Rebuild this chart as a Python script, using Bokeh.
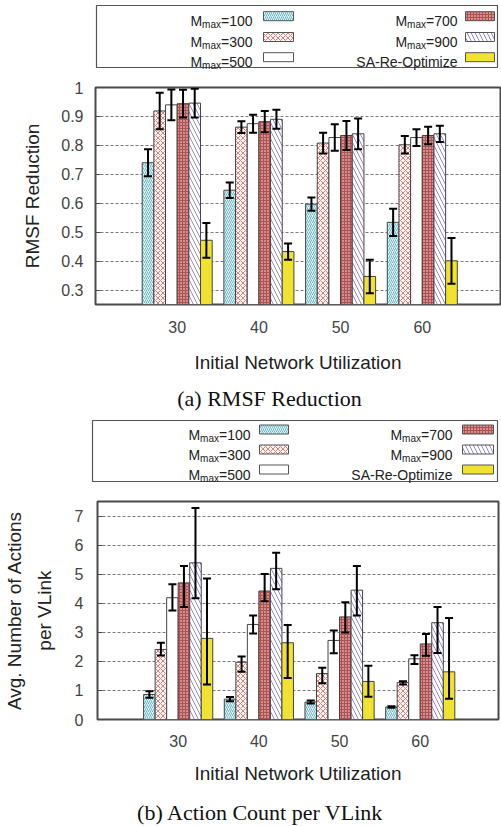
from bokeh.plotting import figure
from bokeh.models import Range1d, FixedTicker, LinearAxis, Whisker, TeeHead, ColumnDataSource, PrintfTickFormatter
from bokeh.layouts import column
from bokeh.embed import file_html
from bokeh.resources import INLINE
from bokeh.core.properties import value

# ---------------- data ----------------
groups = [30, 40, 50, 60]
mmax_values = ["100", "300", "500", "700", "900"]
sa_label = "SA-Re-Optimize"

# (a) RMSF reduction: mean and half error
rmsf_m100 = [0.740, 0.645, 0.597, 0.534]
rmsf_m300 = [0.919, 0.863, 0.808, 0.802]
rmsf_m500 = [0.940, 0.875, 0.827, 0.827]
rmsf_m700 = [0.944, 0.882, 0.834, 0.834]
rmsf_m900 = [0.946, 0.890, 0.840, 0.840]
rmsf_sa = [0.472, 0.433, 0.347, 0.401]
rmsf_err_m100 = [0.047, 0.027, 0.023, 0.047]
rmsf_err_m300 = [0.063, 0.020, 0.036, 0.030]
rmsf_err_m500 = [0.053, 0.031, 0.046, 0.029]
rmsf_err_m700 = [0.048, 0.037, 0.050, 0.030]
rmsf_err_m900 = [0.050, 0.033, 0.053, 0.028]
rmsf_err_sa = [0.060, 0.028, 0.058, 0.079]

# (b) action count per VLink: mean, lower and upper error bounds
act_m100 = [0.86, 0.70, 0.60, 0.43]
act_m300 = [2.41, 1.97, 1.58, 1.27]
act_m500 = [4.19, 3.27, 2.72, 2.09]
act_m700 = [4.70, 4.42, 3.53, 2.60]
act_m900 = [5.39, 5.20, 4.45, 3.33]
act_sa = [2.79, 2.64, 1.31, 1.64]
act_lo_m100 = [0.75, 0.63, 0.55, 0.40]
act_hi_m100 = [0.97, 0.77, 0.65, 0.46]
act_lo_m300 = [2.20, 1.64, 1.25, 1.20]
act_hi_m300 = [2.64, 2.17, 1.78, 1.32]
act_lo_m500 = [3.75, 2.96, 2.28, 1.91]
act_hi_m500 = [4.65, 3.58, 3.06, 2.21]
act_lo_m700 = [3.87, 4.07, 2.99, 2.19]
act_hi_m700 = [5.28, 5.01, 4.03, 2.94]
act_lo_m900 = [4.17, 4.48, 3.58, 2.29]
act_hi_m900 = [7.28, 5.74, 5.28, 3.87]
act_lo_sa = [1.20, 1.43, 0.78, 0.71]
act_hi_sa = [4.85, 3.25, 1.85, 3.49]

rmsf_ticks = [0.3, 0.4, 0.5, 0.6, 0.7, 0.8, 0.9, 1.0]
act_ticks = [0, 1, 2, 3, 4, 5, 6, 7]

# ---------------- styles ----------------
SANS = "Liberation Sans"
SERIF = "Liberation Serif"
FRAME = "#4a4a4a"
styles = [
    dict(fill_color="#e2f4f8", hatch_pattern="/", hatch_color="#5fb0c2", hatch_scale=4, hatch_weight=0.9),
    dict(fill_color="#fff6f4", hatch_pattern="x", hatch_color="#d88080", hatch_scale=5, hatch_weight=1),
    dict(fill_color="#ffffff"),
    dict(fill_color="#d48c8c", hatch_pattern="+", hatch_color="#b05252", hatch_scale=3, hatch_weight=1),
    dict(fill_color="#ffffff", hatch_pattern="\\", hatch_color="#9888cf", hatch_scale=8, hatch_weight=1),
    dict(fill_color="#f0e22e"),
]
BW = 10.0 / 7.0
W = 501


def main_fig(height, bl, br, bt, bb, xr, yr, yticks):
    p = figure(width=W, height=height, x_range=Range1d(*xr), y_range=Range1d(*yr),
               output_backend="svg", toolbar_location=None, title=None,
               min_border_left=bl, min_border_right=br, min_border_top=bt, min_border_bottom=bb)
    p.frame_align = False
    p.outline_line_color = FRAME
    p.outline_line_width = 2
    p.background_fill_color = "white"
    p.border_fill_color = "white"
    p.xgrid.visible = False
    p.ygrid.ticker = FixedTicker(ticks=yticks)
    p.ygrid.grid_line_color = "#7a7a7a"
    p.ygrid.grid_line_dash = "3 2"
    p.ygrid.grid_line_width = 1
    xa = p.xaxis[0]
    xa.ticker = FixedTicker(ticks=groups)
    xa.major_tick_out = 0
    xa.major_tick_in = 0
    xa.minor_tick_out = 0
    xa.axis_line_color = None
    xa.major_label_text_font = SANS
    xa.major_label_text_font_size = "16px"
    xa.major_label_text_color = "#444444"
    xa.major_label_standoff = 16
    xa.axis_label = "Initial Network Utilization"
    xa.axis_label_text_font = SANS
    xa.axis_label_text_font_size = "19px"
    xa.axis_label_text_font_style = "normal"
    xa.axis_label_text_color = "#222222"
    xa.axis_label_standoff = 16
    ya = p.yaxis[0]
    ya.ticker = FixedTicker(ticks=yticks)
    ya.formatter = PrintfTickFormatter(format="%g")
    ya.major_tick_out = 0
    ya.major_tick_in = 5
    ya.minor_tick_out = 0
    ya.minor_tick_in = 0
    ya.major_tick_line_color = FRAME
    ya.axis_line_color = None
    ya.major_label_text_font = SANS
    ya.major_label_text_font_size = "16px"
    ya.major_label_text_color = "#444444"
    ya.axis_label_text_font = SANS
    ya.axis_label_text_font_size = "19px"
    ya.axis_label_text_font_style = "normal"
    ya.axis_label_text_color = "#222222"
    return p


def draw_bars(p, means, lows, highs, base):
    for i, (m, lo, hi) in enumerate(zip(means, lows, highs)):
        xs = [g + (i - 2.5) * BW for g in groups]
        p.vbar(x=xs, width=BW, top=m, bottom=base, line_color="#444444", line_width=1, **styles[i])
        src = ColumnDataSource(dict(x=xs, lower=lo, upper=hi))
        w = Whisker(source=src, base="x", lower="lower", upper="upper",
                    line_color="black", line_width=2, level="annotation",
                    upper_head=TeeHead(size=8, line_width=2, line_color="black"),
                    lower_head=TeeHead(size=8, line_width=2, line_color="black"))
        p.add_layout(w)


def blank_fig(top, height):
    p = figure(width=W, height=height, x_range=Range1d(0, W), y_range=Range1d(top + height, top),
               output_backend="svg", toolbar_location=None, title=None,
               x_axis_type=None, y_axis_type=None, min_border=0)
    p.frame_align = False
    p.outline_line_color = None
    p.background_fill_color = "white"
    p.border_fill_color = "white"
    return p


def legend_fig(top, height, box, baselines, ends, swatches):
    p = blank_fig(top, height)
    l, r, t, b = box
    p.quad(left=[l], right=[r], top=[t], bottom=[b], fill_color=None, line_color="#555555", line_width=1.2)
    F = 14.0
    fs = 10.0
    w_max = (0.833 + 0.556 + 0.5) * fs
    entries = ["=" + v for v in mmax_values] + [sa_label]
    for i, e in enumerate(entries):
        col = i // 3
        row = i % 3
        yb = baselines[row]
        xe = ends[col]
        sl, sr = swatches[col]
        if e.startswith("="):
            w_eq = (0.584 + 0.556 * 3) * F
            p.text(x=[xe], y=[yb], text=[e], text_align="right", text_baseline="alphabetic",
                   text_font=value(SANS), text_font_size="14px", text_color="#222222")
            p.text(x=[xe - w_eq], y=[yb + 3.5], text=["max"], text_align="right", text_baseline="alphabetic",
                   text_font=value(SANS), text_font_size="10px", text_color="#222222")
            p.text(x=[xe - w_eq - w_max], y=[yb], text=["M"], text_align="right", text_baseline="alphabetic",
                   text_font=value(SANS), text_font_size="14px", text_color="#222222")
        else:
            p.text(x=[xe], y=[yb], text=[e], text_align="right", text_baseline="alphabetic",
                   text_font=value(SANS), text_font_size="14px", text_color="#222222")
        p.quad(left=[sl], right=[sr], top=[yb - 9.5], bottom=[yb - 0.5], line_color="#555555",
               line_width=1, **styles[i])
    return p


def caption_fig(top, height, x, y, text):
    p = blank_fig(top, height)
    p.text(x=[x], y=[y], text=[text], text_align="center", text_baseline="middle",
           text_font=value(SERIF), text_font_size="22px", text_color="#111111")
    return p


# ---------------- panel (a) ----------------
leg_a = legend_fig(0, 75, (96, 497, 5, 67), [20.7, 41.5, 61.7], [252, 457], [(263, 293), (465, 494)])

pa = main_fig(309, 95, 1, 12, 80, (20, 69.57), (0.25, 1.0), rmsf_ticks)
pa.yaxis[0].major_label_standoff = 12
pa.yaxis[0].axis_label = "RMSF Reduction"
pa.yaxis[0].axis_label_standoff = 15
a_means = [rmsf_m100, rmsf_m300, rmsf_m500, rmsf_m700, rmsf_m900, rmsf_sa]
a_errs = [rmsf_err_m100, rmsf_err_m300, rmsf_err_m500, rmsf_err_m700, rmsf_err_m900, rmsf_err_sa]
a_lows = [[m - e for m, e in zip(ms, es)] for ms, es in zip(a_means, a_errs)]
a_highs = [[m + e for m, e in zip(ms, es)] for ms, es in zip(a_means, a_errs)]
draw_bars(pa, a_means, a_lows, a_highs, 0.25)

cap_a = caption_fig(384, 32, 269, 398, "(a) RMSF Reduction")

# ---------------- panel (b) ----------------
leg_b = legend_fig(416, 72, (92, 497, 420, 481), [434, 454, 474], [250, 452], [(259, 288), (462, 493)])

pb = main_fig(307, 91, 3, 13, 76, (20, 69.7), (0, 7.5), act_ticks)
pb.xaxis[0].major_label_standoff = 15
pb.xaxis[0].axis_label_standoff = 13
pb.yaxis[0].major_label_standoff = 14
pb.yaxis[0].axis_label = "per VLink"
pb.yaxis[0].axis_label_standoff = 17
extra = LinearAxis(axis_label="Avg. Number of Actions", ticker=FixedTicker(ticks=[]),
                   major_tick_out=0, major_tick_in=0, minor_tick_out=0, minor_tick_in=0,
                   axis_line_color=None, major_label_standoff=0, axis_label_standoff=6,
                   axis_label_text_font=SANS, axis_label_text_font_size="19px",
                   axis_label_text_font_style="normal", axis_label_text_color="#222222")
pb.add_layout(extra, "left")
b_means = [act_m100, act_m300, act_m500, act_m700, act_m900, act_sa]
b_lows = [act_lo_m100, act_lo_m300, act_lo_m500, act_lo_m700, act_lo_m900, act_lo_sa]
b_highs = [act_hi_m100, act_hi_m300, act_hi_m500, act_hi_m700, act_hi_m900, act_hi_sa]
draw_bars(pb, b_means, b_lows, b_highs, 0)

cap_b = caption_fig(795, 30, 260, 812, "(b) Action Count per VLink")

layout = column(leg_a, pa, cap_a, leg_b, pb, cap_b, spacing=0)
open("out.html", "w").write(file_html(layout, INLINE))
